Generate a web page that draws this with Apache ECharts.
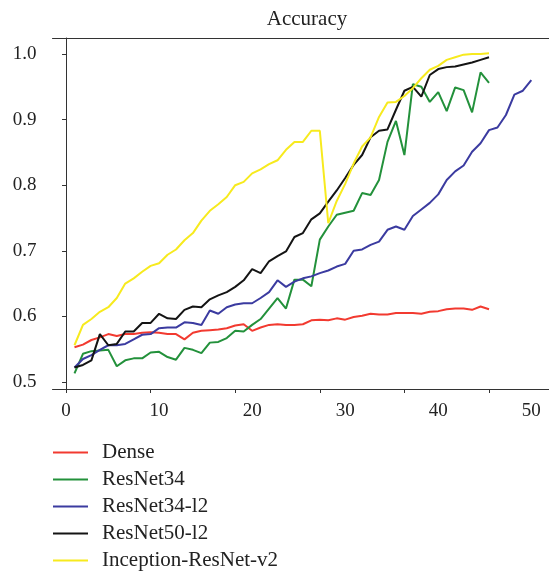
<!DOCTYPE html>
<html>
<head>
<meta charset="utf-8">
<script src="https://cdn.jsdelivr.net/npm/echarts@6/dist/echarts.min.js"></script>
<style>
  html, body { margin: 0; padding: 0; background: #fff; }
  #chart { width: 549px; height: 571px; }
</style>
</head>
<body>
<div id="chart"></div>
<script>
// accuracy per epoch, epochs start at 1
const dense = [0.553, 0.557, 0.564, 0.568, 0.573, 0.570, 0.573, 0.573, 0.575, 0.576,
  0.575, 0.573, 0.573, 0.565, 0.575, 0.578, 0.579, 0.580, 0.582, 0.586,
  0.588, 0.578, 0.583, 0.587, 0.588, 0.587, 0.587, 0.588, 0.594, 0.595,
  0.594, 0.597, 0.595, 0.599, 0.601, 0.604, 0.603, 0.603, 0.605, 0.605,
  0.605, 0.604, 0.607, 0.608, 0.611, 0.612, 0.612, 0.610, 0.615, 0.611];
const resnet34 = [0.513, 0.543, 0.547, 0.548, 0.549, 0.524, 0.533, 0.536, 0.536, 0.545,
  0.546, 0.538, 0.534, 0.552, 0.549, 0.544, 0.560, 0.561, 0.567, 0.578,
  0.577, 0.587, 0.596, 0.612, 0.628, 0.612, 0.656, 0.656, 0.646, 0.717,
  0.737, 0.755, 0.758, 0.761, 0.788, 0.785, 0.808, 0.866, 0.898, 0.846,
  0.954, 0.950, 0.927, 0.942, 0.913, 0.949, 0.945, 0.911, 0.972, 0.956];
const resnet34l2 = [0.522, 0.535, 0.541, 0.549, 0.556, 0.556, 0.558, 0.565, 0.572, 0.573,
  0.582, 0.583, 0.583, 0.591, 0.590, 0.587, 0.609, 0.604, 0.614, 0.618,
  0.620, 0.620, 0.628, 0.637, 0.655, 0.645, 0.653, 0.658, 0.661, 0.666,
  0.670, 0.676, 0.680, 0.700, 0.702, 0.709, 0.714, 0.732, 0.737, 0.732,
  0.753, 0.763, 0.773, 0.786, 0.808, 0.821, 0.830, 0.851, 0.864, 0.884,
  0.888, 0.907, 0.938, 0.944, 0.960];
const resnet50l2 = [0.522, 0.526, 0.533, 0.573, 0.556, 0.558, 0.577, 0.577, 0.590, 0.590,
  0.604, 0.597, 0.596, 0.610, 0.615, 0.614, 0.626, 0.632, 0.637, 0.645,
  0.655, 0.672, 0.666, 0.684, 0.692, 0.699, 0.721, 0.727, 0.748, 0.757,
  0.775, 0.792, 0.811, 0.831, 0.846, 0.873, 0.883, 0.885, 0.915, 0.944,
  0.950, 0.935, 0.968, 0.977, 0.980, 0.981, 0.984, 0.987, 0.991, 0.995];
const inception = [0.556, 0.587, 0.596, 0.607, 0.614, 0.628, 0.650, 0.658, 0.668, 0.677,
  0.681, 0.694, 0.702, 0.716, 0.727, 0.746, 0.761, 0.771, 0.782, 0.800,
  0.805, 0.818, 0.824, 0.832, 0.838, 0.854, 0.866, 0.866, 0.883, 0.883,
  0.742, 0.776, 0.802, 0.833, 0.859, 0.873, 0.904, 0.926, 0.927, 0.936,
  0.948, 0.963, 0.976, 0.982, 0.991, 0.995, 0.999, 1.000, 1.000, 1.001];

const seriesNames = ['Dense', 'ResNet34', 'ResNet34-l2', 'ResNet50-l2', 'Inception-ResNet-v2'];
const seriesColors = ['#f23a30', '#23913b', '#3b3ba0', '#141414', '#f7ea1e'];

// tick marks and their labels do not line up in the source figure
const xTicks = [0, 10, 20, 30, 40, 50];
const xLabelPos = [0, 11, 22, 33, 44, 55];
const xLabels = ['0', '10', '20', '30', '40', '50'];
const yTicks = [0.5, 0.6, 0.7, 0.8, 0.9, 1.0];

const font = 'Liberation Serif';
const xMin = -1.6;
const xMax = (52.5 + 502 - 66) / 8.46;
const myChart = echarts.init(document.getElementById('chart'));

const seriesArr = [dense, resnet34, resnet34l2, resnet50l2, inception].map((vals, i) => ({
  name: seriesNames[i],
  type: 'line',
  data: vals.map((v, k) => [k + 1, v]),
  symbol: 'none',
  color: seriesColors[i],
  lineStyle: { width: 2, color: seriesColors[i] },
  z: 2 + i
}));

const option = {
  animation: false,
  title: {
    text: 'Accuracy',
    left: 302,
    textAlign: 'center',
    top: 4,
    textStyle: { fontFamily: font, fontSize: 21, fontWeight: 'normal', color: '#222' }
  },
  grid: {
    left: 52.5, top: 38, width: 502, height: 351,
    outerBoundsMode: 'none',
    containLabel: false
  },
  legend: {
    orient: 'vertical',
    left: 53,
    top: 442,
    height: 200,
    padding: 0,
    itemWidth: 35,
    itemHeight: 2,
    itemGap: 6,
    icon: 'rect',
    textStyle: {
      fontFamily: font, fontSize: 21, color: '#222',
      rich: { t: { fontFamily: font, fontSize: 21, color: '#222', lineHeight: 20, padding: [0, 0, 0, 9] } }
    },
    formatter: name => '{t|' + name + '}',
    data: seriesNames
  },
  xAxis: [
    {
      type: 'value',
      min: xMin,
      max: xMax,
      splitLine: { show: false },
      axisLine: { show: true, lineStyle: { color: '#333' } },
      axisTick: { show: true, length: 4, customValues: xTicks, lineStyle: { color: '#333' } },
      axisLabel: {
        customValues: xLabelPos,
        formatter: v => xLabels[xLabelPos.indexOf(Math.round(v))] || '',
        margin: 13,
        fontFamily: font, fontSize: 19, color: '#222'
      }
    },
    {
      // top frame line only
      type: 'value',
      position: 'top',
      min: xMin,
      max: xMax,
      splitLine: { show: false },
      axisLine: { show: true, lineStyle: { color: '#333' } },
      axisTick: { show: false },
      axisLabel: { show: false }
    }
  ],
  yAxis: {
    type: 'value',
    min: 0.4893,
    max: 1.0244,
    splitLine: { show: false },
    axisLine: { show: true, lineStyle: { color: '#333' } },
    axisTick: { show: true, length: 4, customValues: yTicks, lineStyle: { color: '#333' } },
    axisLabel: {
      customValues: yTicks,
      formatter: v => v.toFixed(1),
      margin: 16,
      fontFamily: font, fontSize: 19, color: '#222'
    }
  },
  series: seriesArr
};

myChart.setOption(option);
window.addEventListener('resize', function () {
  myChart.resize();
});
</script>
</body>
</html>
